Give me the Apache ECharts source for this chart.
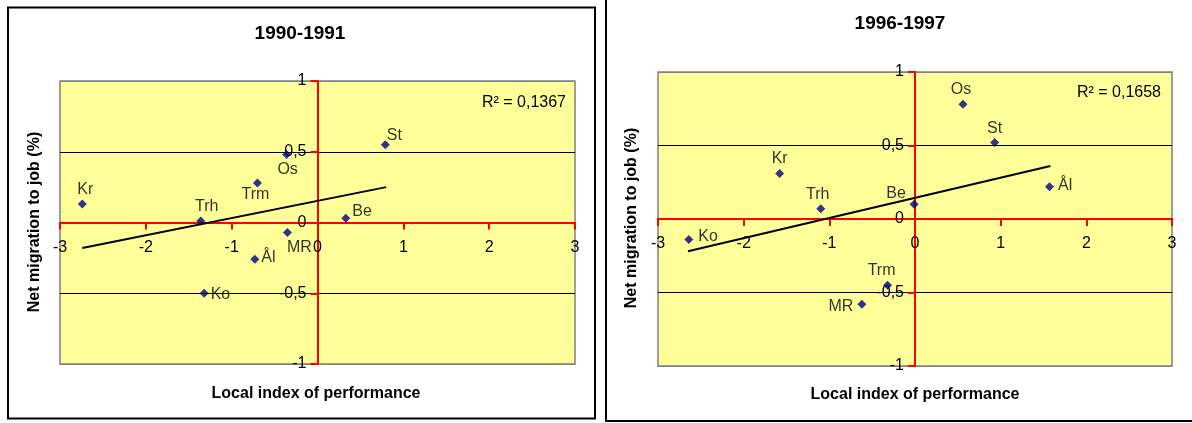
<!DOCTYPE html>
<html>
<head>
<meta charset="utf-8">
<script src="https://cdn.jsdelivr.net/npm/echarts@6/dist/echarts.min.js"></script>
<style>
  html, body { margin: 0; padding: 0; background: #fff; }
  #chart { width: 1192px; height: 423px; }
</style>
</head>
<body>
<div id="chart"></div>
<script>
// 1990-1991
const names90 = ['Kr', 'Trh', 'Trm', 'Os', 'St', 'Be', 'MR', 'Ål', 'Ko'];
const lip90 = [-2.74, -1.36, -0.70, -0.36, 0.79, 0.33, -0.35, -0.73, -1.32];
const mig90 = [0.13, 0.01, 0.28, 0.48, 0.55, 0.03, -0.07, -0.26, -0.50];
const trendX90 = [-2.74, 0.80];
const trendY90 = [-0.18, 0.25];
const r2_90 = '0,1367';

// 1996-1997
const names97 = ['Os', 'St', 'Kr', 'Trh', 'Be', 'Ål', 'Ko', 'Trm', 'MR'];
const lip97 = [0.56, 0.93, -1.58, -1.10, -0.01, 1.57, -2.64, -0.32, -0.62];
const mig97 = [0.78, 0.52, 0.31, 0.07, 0.10, 0.22, -0.14, -0.45, -0.58];
const trendX97 = [-2.65, 1.58];
const trendY97 = [-0.22, 0.36];
const r2_97 = '0,1658';

const xTicks = [-3, 3, 1];      // min, max, step
const yTicks = [-1, 1, 0.5];

// where each point label sits (style only)
const place90 = {
    Kr: ['top', [3, 0]], Trh: ['top', [6, 0]], Trm: ['bottom', [-2, -3]],
    Os: ['bottom', [1, 1]], St: ['top', [9, 5]], Be: ['right', [0, -7]],
    MR: ['bottom', [12, 1]], 'Ål': ['right', [0, -2]], Ko: ['right', [0, 1]]
};
const place97 = {
    Os: ['top', [-2, 0]], St: ['top', [0, 1]], Kr: ['top', [0, 0]],
    Trh: ['top', [-3, 0]], Be: ['top', [-18, 4]], 'Ål': ['right', [2, -1]],
    Ko: ['right', [3, -3]], Trm: ['top', [-6, 0]], MR: ['left', [-2, 2]]
};

const FONT = '"Liberation Sans", Arial, sans-serif';

// plot boxes
const boxes = [
    { left: 60, top: 81, width: 515, height: 283 },
    { left: 658, top: 72, width: 514, height: 294 }
];

function points(names, xs, ys, place) {
    return names.map((n, i) => ({
        name: n,
        value: [xs[i], ys[i]],
        label: { position: place[n][0], offset: place[n][1] }
    }));
}

// axes cross in the middle of the box (ranges are symmetric round zero)
function xAxis(gridIndex) {
    return {
        type: 'value', gridIndex, position: 'bottom',
        offset: -boxes[gridIndex].height / 2,
        min: xTicks[0], max: xTicks[1], interval: xTicks[2],
        axisLine: { onZero: false, lineStyle: { color: '#ff0000', width: 2 } },
        axisTick: { show: true, length: 7, lineStyle: { color: '#ff0000', width: 2 } },
        axisLabel: { color: '#000', fontSize: 16, fontFamily: FONT, margin: 17 },
        splitLine: { show: false }
    };
}

function yAxis(gridIndex) {
    return {
        type: 'value', gridIndex, position: 'left',
        offset: -boxes[gridIndex].width / 2,
        min: yTicks[0], max: yTicks[1], interval: yTicks[2],
        axisLine: { onZero: false, lineStyle: { color: '#ff0000', width: 2 } },
        axisTick: { show: true, length: 7, lineStyle: { color: '#ff0000', width: 2 } },
        axisLabel: {
            color: '#000', fontSize: 16, fontFamily: FONT, margin: 11,
            formatter: v => String(v).replace('.', ',')
        },
        splitLine: {
            show: true,
            lineStyle: { color: ['#808080', '#000', 'rgba(0,0,0,0)', '#000', '#808080'], width: 1 }
        }
    };
}

function scatter(idx, data) {
    return {
        type: 'scatter', xAxisIndex: idx, yAxisIndex: idx,
        symbol: 'diamond', symbolSize: 9,
        itemStyle: { color: '#000080' },
        label: {
            show: true, formatter: '{b}', color: '#000',
            fontSize: 16, fontFamily: FONT, distance: 2
        },
        data, z: 5
    };
}

function trend(idx, xs, ys) {
    return {
        type: 'line', xAxisIndex: idx, yAxisIndex: idx,
        data: xs.map((x, i) => [x, ys[i]]),
        showSymbol: false, symbol: 'none',
        lineStyle: { color: '#000', width: 2 },
        z: 4
    };
}

function text(left, top, str, size, bold, rotate) {
    return {
        type: 'text', x: left, y: top, rotation: rotate || 0,
        style: {
            text: str, fill: '#000', font: (bold ? 'bold ' : '') + size + 'px ' + FONT,
            textAlign: 'center', textVerticalAlign: 'middle'
        },
        z: 10
    };
}

const chart = echarts.init(document.getElementById('chart'));
chart.setOption({
    animation: false,
    grid: boxes.map(b => Object.assign({
        show: true, backgroundColor: '#ffff99', borderColor: '#808080', borderWidth: 1.5
    }, b)),
    xAxis: [xAxis(0), xAxis(1)],
    yAxis: [yAxis(0), yAxis(1)],
    series: [
        trend(0, trendX90, trendY90),
        scatter(0, points(names90, lip90, mig90, place90)),
        trend(1, trendX97, trendY97),
        scatter(1, points(names97, lip97, mig97, place97))
    ],
    graphic: [
        // chart frames
        { type: 'rect', shape: { x: 8, y: 7.5, width: 587, height: 411 },
          style: { fill: 'none', stroke: '#000', lineWidth: 2 }, z: 0 },
        { type: 'rect', shape: { x: 606, y: -10, width: 700, height: 431 },
          style: { fill: 'none', stroke: '#000', lineWidth: 2 }, z: 0 },
        // titles
        text(300, 34, '1990-1991', 19, true),
        text(900, 24, '1996-1997', 19, true),
        // axis names
        text(316, 394, 'Local index of performance', 16, true),
        text(915, 395, 'Local index of performance', 16, true),
        text(35, 222, 'Net migration to job (%)', 16, true, Math.PI / 2),
        text(632, 218, 'Net migration to job (%)', 16, true, Math.PI / 2),
        // R² labels
        {
            type: 'text', x: 566, y: 103,
            style: { text: 'R² = ' + r2_90, fill: '#000', font: '16px ' + FONT,
                     textAlign: 'right', textVerticalAlign: 'middle' }, z: 10
        },
        {
            type: 'text', x: 1161, y: 93,
            style: { text: 'R² = ' + r2_97, fill: '#000', font: '16px ' + FONT,
                     textAlign: 'right', textVerticalAlign: 'middle' }, z: 10
        }
    ]
});
</script>
</body>
</html>
